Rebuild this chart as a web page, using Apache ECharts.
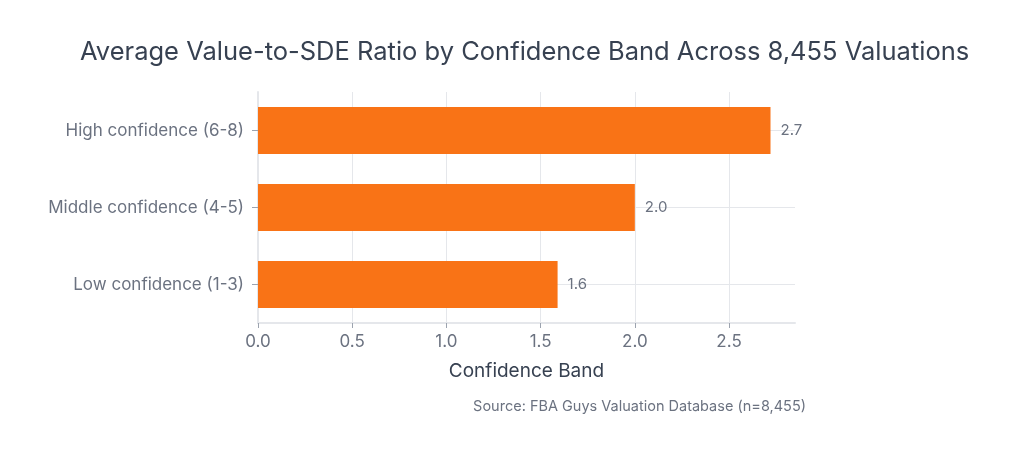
<!DOCTYPE html>
<html lang="en">
<head>
    <meta charset="UTF-8">
    <title>Average Value-to-SDE Ratio by Confidence Band</title>
    <script src="https://cdn.jsdelivr.net/npm/echarts@6/dist/echarts.min.js"></script>
    <style>
        html, body { margin: 0; padding: 0; background: #fff; }
        #chart { width: 1018px; height: 459px; }
    </style>
</head>
<body>
    <div id="chart"></div>
    <script type="text/javascript">
        // data, top to bottom
        const bands = ['High confidence (6-8)', 'Middle confidence (4-5)', 'Low confidence (1-3)'];
        const ratios = [2.72, 2.0, 1.59];
        const xTicks = [0, 0.5, 1, 1.5, 2, 2.5];

        const font = 'Inter, "Liberation Sans", Arial, sans-serif';
        const grey = '#6b7280';
        const dark = '#374151';
        const gridColor = '#e5e7eb';

        let chart = echarts.init(document.getElementById('chart'));

        let option = {
            animation: false,
            textStyle: { fontFamily: font },
            grid: { left: 258, right: 223, top: 92, bottom: 136, containLabel: false },
            xAxis: {
                type: 'value',
                min: 0,
                max: 2.85,
                interval: 0.5,
                name: 'Confidence Band',
                nameLocation: 'middle',
                nameGap: 39,
                nameTextStyle: { color: dark, fontSize: 19, fontFamily: font },
                axisLine: { show: true, lineStyle: { color: gridColor, width: 2 } },
                axisTick: { show: true, length: 5, customValues: xTicks, lineStyle: { color: '#9ca3af' } },
                axisLabel: { customValues: xTicks, color: grey, fontSize: 17, margin: 10, fontFamily: font,
                    formatter: v => v.toFixed(1) },
                splitLine: { show: true, lineStyle: { color: gridColor, width: 1 } }
            },
            yAxis: {
                type: 'category',
                inverse: true,
                data: bands,
                axisLine: { show: true, onZero: false, lineStyle: { color: gridColor, width: 2 } },
                axisTick: { show: true, alignWithLabel: true, length: 6, lineStyle: { color: '#9ca3af' } },
                axisLabel: { color: grey, fontSize: 17, margin: 14, fontFamily: font },
                splitLine: { show: false }
            },
            series: [
                {
                    // horizontal grid lines through category centres
                    type: 'line',
                    data: [],
                    z: 1,
                    silent: true,
                    markLine: {
                        z: 1,
                        silent: true,
                        symbol: 'none',
                        label: { show: false },
                        lineStyle: { color: gridColor, type: 'solid', width: 1 },
                        data: bands.map(b => ({ yAxis: b }))
                    }
                },
                {
                    type: 'bar',
                    data: ratios,
                    z: 3,
                    barWidth: 47,
                    itemStyle: { color: '#f97316' },
                    label: {
                        show: true,
                        position: 'right',
                        distance: 10,
                        color: grey,
                        fontSize: 15,
                        fontFamily: font,
                        formatter: p => p.value.toFixed(1)
                    }
                }
            ],
            graphic: [
                {
                    type: 'text',
                    left: 80,
                    top: 39,
                    style: {
                        text: 'Average Value-to-SDE Ratio by Confidence Band Across 8,455 Valuations',
                        fill: dark,
                        font: '25.5px ' + font
                    }
                },
                {
                    type: 'text',
                    right: 212,
                    top: 399,
                    style: {
                        text: 'Source: FBA Guys Valuation Database (n=8,455)',
                        fill: grey,
                        font: '14.5px ' + font
                    }
                }
            ]
        };

        option && chart.setOption(option);
    </script>
</body>
</html>
